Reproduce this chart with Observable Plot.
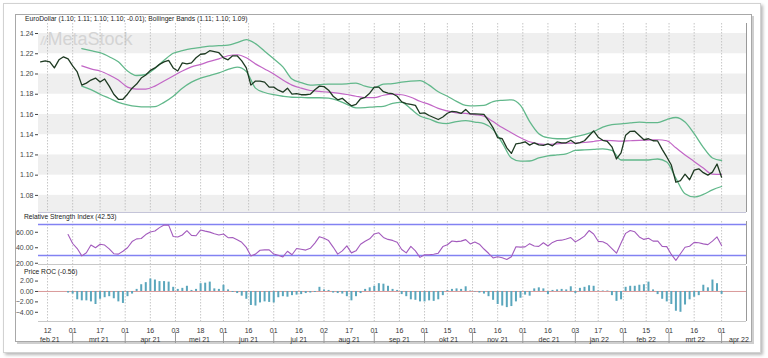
<!DOCTYPE html>
<html><head><meta charset="utf-8">
<script src="https://cdn.jsdelivr.net/npm/d3@7"></script>
<script src="https://cdn.jsdelivr.net/npm/@observablehq/plot@0.6"></script>
<style>
body{margin:0;background:#fff;width:768px;height:358px;overflow:hidden;font-family:"Liberation Sans",Arial,sans-serif;}
#root{position:relative;width:768px;height:358px;}
.card{position:absolute;left:3px;top:3px;width:756px;height:348px;border:1px solid #d2d2d2;box-shadow:2px 2px 3px rgba(0,0,0,0.28);background:#fff;}
.frame{position:absolute;left:15px;top:14px;width:735px;height:326px;border:1px solid #a8a8a8;box-shadow:2px 2px 0 #cfcfcf;}
.panel{position:absolute;left:0;}
.title{position:absolute;font-size:6.7px;line-height:7px;color:#222;white-space:nowrap;}
</style></head><body>
<div id="root">
  <div class="card"></div>
  <div class="frame"></div>
  <div id="p1" class="panel" style="top:14px"></div>
  <div id="p2" class="panel" style="top:213px"></div>
  <div id="p3" class="panel" style="top:265px"></div>
  <div id="p4" class="panel" style="top:321px"></div>
  <div class="title" style="left:25px;top:14.8px">EuroDollar (1.10; 1.11; 1.10; 1.10; -0.01); Bollinger Bands (1.11; 1.10; 1.09)</div>
  <div class="title" style="left:24px;top:213.3px">Relative Strength Index (42.53)</div>
  <div class="title" style="left:24px;top:267.5px">Price ROC (-0.56)</div>
</div>
<script>
// ---------- data ----------
const priceStart = "2021-02-09";   // one value every 2 trading days
const price = [
1.212,1.213,1.212,1.206,1.214,1.217,1.215,1.208,1.202,1.189,
1.191,1.194,1.196,1.192,1.195,1.188,1.180,1.175,1.175,1.180,
1.186,1.190,1.196,1.199,1.2036,1.206,1.2095,1.212,1.2135,1.206,
1.203,1.211,1.210,1.211,1.216,1.2195,1.220,1.223,1.222,1.221,
1.216,1.214,1.218,1.218,1.213,1.206,1.189,1.193,1.193,1.192,
1.187,1.187,1.184,1.182,1.186,1.180,1.1805,1.1795,1.1795,1.180,
1.1845,1.188,1.1875,1.184,1.178,1.1745,1.176,1.172,1.1685,1.170,
1.1755,1.177,1.181,1.187,1.187,1.1825,1.181,1.1805,1.178,1.1725,
1.1707,1.170,1.169,1.161,1.1615,1.159,1.157,1.155,1.1575,1.1612,
1.163,1.1625,1.161,1.165,1.1605,1.1605,1.1603,1.160,1.154,1.1468,
1.137,1.136,1.127,1.1215,1.131,1.1316,1.133,1.1297,1.132,1.130,
1.1295,1.131,1.129,1.1328,1.132,1.132,1.1345,1.1312,1.1322,1.134,
1.139,1.1438,1.1375,1.1345,1.1333,1.128,1.116,1.122,1.1395,1.1433,
1.1435,1.1393,1.135,1.136,1.134,1.1338,1.1255,1.118,1.110,1.093,
1.0947,1.101,1.0955,1.105,1.1063,1.1025,1.100,1.103,1.111,1.098];

const bandStart = "2021-03-05";    // one value every 4 trading days
const bandMid = [
1.208,1.205,1.203,1.199,1.194,1.187,1.185,1.185,1.188,1.193,
1.198,1.203,1.207,1.2095,1.2125,1.215,1.218,1.219,1.216,1.210,
1.205,1.200,1.194,1.189,1.186,1.1837,1.1828,1.182,1.181,1.1797,
1.178,1.1767,1.1767,1.179,1.180,1.1795,1.177,1.173,1.170,1.166,
1.1635,1.1615,1.161,1.1598,1.1583,1.153,1.147,1.142,1.137,1.133,
1.131,1.1303,1.131,1.1316,1.1318,1.1323,1.1333,1.1345,1.1342,1.1336,
1.134,1.1343,1.1347,1.135,1.134,1.127,1.120,1.1135,1.107,1.101,
1.1007];
const bandUpper = [
1.225,1.223,1.221,1.217,1.212,1.203,1.1985,1.1995,1.2055,1.2135,
1.2205,1.223,1.225,1.2262,1.2275,1.228,1.2285,1.231,1.234,1.230,
1.2225,1.215,1.207,1.195,1.1915,1.189,1.1895,1.190,1.190,1.1903,
1.191,1.188,1.1865,1.190,1.1905,1.192,1.193,1.1935,1.189,1.1825,
1.178,1.173,1.169,1.1685,1.1689,1.1728,1.174,1.1745,1.169,1.153,
1.141,1.137,1.136,1.136,1.1382,1.140,1.143,1.1475,1.150,1.1507,
1.1516,1.1524,1.152,1.152,1.155,1.157,1.1525,1.141,1.1275,1.117,
1.1145];
const bandLower = [
1.188,1.1845,1.180,1.176,1.172,1.1695,1.168,1.1675,1.1678,1.172,
1.178,1.186,1.192,1.196,1.1985,1.201,1.2045,1.2067,1.2025,1.186,
1.1817,1.1795,1.178,1.177,1.1768,1.1765,1.1765,1.1762,1.174,1.170,
1.1665,1.1668,1.1675,1.168,1.171,1.172,1.1655,1.1585,1.1555,1.152,
1.151,1.153,1.154,1.1525,1.151,1.145,1.132,1.117,1.1138,1.114,
1.117,1.119,1.120,1.121,1.1244,1.125,1.1255,1.126,1.1244,1.115,
1.115,1.115,1.115,1.116,1.113,1.097,1.0816,1.0785,1.081,1.0855,
1.0888];

const indStart = "2021-02-25";     // RSI and ROC, one value every 2 trading days
const rsi = [
57,45.5,39,29.5,33.5,43.6,40,44.5,43.5,38.6,
32.3,31.8,35.5,40,48,51.5,52,57,60.4,61.7,
66,69.3,69.2,54.5,53.8,56.5,62,56,55.5,63,
61.5,60.2,58,56.5,57.8,53,53.2,50.3,47,40.5,
29.5,31.8,36.8,37.3,37.3,31.9,30.4,28.2,35.5,31,
39,38,37,39.3,46,54.3,52.2,49.3,40.9,31.8,
36,42.5,33.4,36,44.5,48.4,51.5,57.8,59.3,53.3,
50.8,49.5,47.2,37.8,33.4,41.8,36,27.6,31,30.9,
31.7,33,41.5,43.9,48.7,47.9,48.6,50.5,45,47.5,
44.6,38.4,32.9,26.8,28.4,27.2,24.9,28.5,41.3,40.8,
41.2,45.3,42.2,41.8,46.4,42.3,46.9,49.4,49.8,51.2,
53.2,47.6,51,55,62.2,57.8,48.3,47.7,44.8,39,
33,46.2,58.6,62.2,60.6,54,50.8,52.3,48.6,48.8,
41.8,41.5,31.4,23.8,32.2,40.6,42,47,46.5,45,
44,48.5,54,43];
const roc = [
-0.3,-0.5,-1.6,-1.8,-1.8,-2.0,-2.5,-1.5,-1.2,-1.0,
-1.4,-2.0,-2.3,-1.0,-0.5,0.4,1.3,1.7,2.4,2.2,
1.9,1.9,1.8,0.8,0.4,0.6,1.0,0.2,0.4,1.5,
1.6,1.8,0.5,0.4,1.2,0.3,-0.2,-0.4,-0.9,-1.5,
-2.7,-2.8,-2.2,-2.0,-2.1,-2.2,-1.2,-1.0,-1.1,-0.8,
-0.7,-0.6,-0.4,-0.3,-0.2,0.8,0.3,0.2,-0.3,-0.4,
-0.5,-1.0,-1.8,-1.0,-0.4,0.4,0.7,1.0,1.5,1.4,
1.0,0.4,0.2,-0.6,-1.0,-1.6,-1.7,-2.0,-2.0,-1.8,
-1.9,-1.6,-0.8,0.2,0.4,0.5,0.4,0.9,0.1,-0.1,
-0.3,-0.5,-1.0,-1.7,-2.5,-2.8,-3.1,-2.9,-2.0,-1.3,
-0.7,-0.9,0.5,0.7,0.5,-0.6,0.2,0.3,0.4,0.3,
0.9,-0.4,0.6,0.8,1.1,1.0,0.1,0.1,0.1,-0.8,
-1.9,-1.6,0.8,1.0,1.0,1.2,1.3,1.8,0.3,-0.6,
-1.5,-2.0,-2.5,-3.8,-4.0,-2.6,-1.6,-1.1,-0.8,1.2,
0.7,2.2,1.5,-0.56];

const priceTicks = [1.08,1.10,1.12,1.14,1.16,1.18,1.20,1.22,1.24];
const rsiTicks = [20,40,60];
const rsiLevels = [30,70];
const rocTicks = [-4,-2,0,2];
const tickDates = ["2021-02-12","2021-03-01","2021-03-17","2021-04-01","2021-04-16","2021-05-03","2021-05-18",
 "2021-06-01","2021-06-16","2021-07-01","2021-07-16","2021-08-02","2021-08-17","2021-09-01","2021-09-16",
 "2021-10-01","2021-10-15","2021-11-01","2021-11-16","2021-12-01","2021-12-16","2022-01-03","2022-01-17",
 "2022-02-01","2022-02-15","2022-03-01","2022-03-16","2022-04-01"];
const monthStarts = ["2021-02-01","2021-03-01","2021-04-01","2021-05-01","2021-06-01","2021-07-01","2021-08-01",
 "2021-09-01","2021-10-01","2021-11-01","2021-12-01","2022-01-01","2022-02-01","2022-03-01","2022-04-01","2022-05-01"];
const monthLabels = ["feb 21","mrt 21","apr 21","mei 21","jun 21","jul 21","aug 21","sep 21","okt 21","nov 21",
 "dec 21","jan 22","feb 22","mrt 22","apr 22"];

// ---------- trading-day index (weekdays, 12 Feb 2021 = 0) ----------
const base = Date.UTC(2021,1,12);
function tIndex(s){
  const t = Date.parse(s + "T00:00:00Z"); const day = 86400000;
  let n = 0;
  if (t >= base){ for (let d = base; d < t; d += day){ const w = new Date(d).getUTCDay(); if (w && w !== 6) n++; } }
  else { for (let d = t; d < base; d += day){ const w = new Date(d).getUTCDay(); if (w && w !== 6) n--; } }
  return n;
}
const p0 = tIndex(priceStart), b0 = tIndex(bandStart), i0 = tIndex(indStart);
const priceData = price.map((v,i)=>({x:p0+2*i, v}));
const bandData = bandMid.map((v,i)=>({x:b0+4*i, mid:v, up:bandUpper[i], lo:bandLower[i]}));
const rsiData = rsi.map((v,i)=>({x:i0+2*i, v}));
const rocData = roc.map((v,i)=>({x:i0+2*i, v}));
const ticks = tickDates.map(s=>({x:tIndex(s), label:s.slice(8,10)}));
const mIdx = monthStarts.map(tIndex);
const xDomain = [tIndex("2021-02-08")+0.05, tIndex("2022-04-15")+0.9];
const months = monthLabels.map((m,i)=>({x:Math.min((mIdx[i]+mIdx[i+1])/2, xDomain[1]-3.3), label:m}));
const seps = mIdx.slice(1, monthLabels.length);

// ---------- styles ----------
const W = 768, ML = 38, MR = 22;
const font = {fontFamily:"'Liberation Sans', Arial, sans-serif", fontSize:"7px", color:"#444", background:"transparent", overflow:"visible"};
const grid = Plot.ruleX(ticks, {x:"x", stroke:"#b8b8b8", strokeDasharray:"1.5,1.5", strokeWidth:0.8});
const xs = {domain:xDomain, axis:null};

// price panel
const pDom = [1.0631, 1.2499];
const bands = [];
for (let i = 0; i < priceTicks.length; i += 2) {
  const hi = priceTicks[priceTicks.length-1-i];
  const lo = i+1 < priceTicks.length ? priceTicks[priceTicks.length-2-i] : pDom[0];
  bands.push({lo, hi});
}
bands.push({lo:pDom[0], hi:priceTicks[0]});
const p1 = Plot.plot({
  width:W, height:199, marginLeft:ML, marginRight:MR, marginTop:9, marginBottom:1,
  style:font, x:xs,
  y:{domain:pDom, ticks:priceTicks, tickFormat:".2f", tickSize:3, tickPadding:2, label:null},
  marks:[
    Plot.rectY(bands, {x1:xDomain[0], x2:xDomain[1], y1:"lo", y2:"hi", fill:"#efefef"}),
    Plot.text(["MetaStock"], {frameAnchor:"top-left", dx:9, dy:9, lineAnchor:"top", textAnchor:"start", fontSize:18, fill:"#d4d4d4", fontFamily:"'Liberation Sans', Arial"}),
    Plot.text(["//"], {frameAnchor:"top-left", dx:2, dy:13, lineAnchor:"top", textAnchor:"start", fontSize:12, fontStyle:"italic", fontWeight:"bold", fill:"#dadada"}),
    grid,
    Plot.ruleY([pDom[0]], {stroke:"#c4c4d8"}),
    Plot.ruleX([xDomain[1]], {stroke:"#999"}),
    Plot.line(bandData, {x:"x", y:"up", stroke:"#62b88b", strokeWidth:1.3, curve:"monotone-x"}),
    Plot.line(bandData, {x:"x", y:"lo", stroke:"#62b88b", strokeWidth:1.3, curve:"monotone-x"}),
    Plot.line(bandData, {x:"x", y:"mid", stroke:"#c266c6", strokeWidth:1.2, curve:"monotone-x"}),
    Plot.line(priceData, {x:"x", y:"v", stroke:"#1e3a22", strokeWidth:1.3})
  ]
});
document.getElementById("p1").append(p1);

// RSI panel
const p2 = Plot.plot({
  width:W, height:52, marginLeft:ML, marginRight:MR, marginTop:8, marginBottom:1,
  style:font, x:xs,
  y:{domain:[18.4,73.9], ticks:rsiTicks, tickFormat:".2f", tickSize:3, tickPadding:2, label:null},
  marks:[
    grid,
    Plot.ruleY([18.4], {stroke:"#c8c8c8"}),
    Plot.ruleX([xDomain[1]], {stroke:"#999"}),
    Plot.ruleY(rsiLevels, {stroke:"#8282f2", strokeWidth:1.3}),
    Plot.line(rsiData, {x:"x", y:"v", stroke:"#a35bbd", strokeWidth:1.1})
  ]
});
document.getElementById("p2").append(p2);

// ROC panel
const p3 = Plot.plot({
  width:W, height:56, marginLeft:ML, marginRight:MR, marginTop:1, marginBottom:0,
  style:font, x:xs,
  y:{domain:[-5.77,4.8], ticks:rocTicks, tickFormat:".2f", tickSize:3, tickPadding:2, label:null},
  marks:[
    grid,
    Plot.ruleY([-5.77], {stroke:"#c8c8c8"}),
    Plot.ruleX([xDomain[1]], {stroke:"#999"}),
    Plot.ruleY([0], {stroke:"#d99a9a", strokeWidth:1}),
    Plot.ruleX(rocData, {x:"x", y1:0, y2:"v", stroke:"#5aa6bc", strokeWidth:2})
  ]
});
document.getElementById("p3").append(p3);

// date axis
const p4 = Plot.plot({
  width:W, height:22, marginLeft:ML, marginRight:MR, marginTop:0, marginBottom:0,
  style:font, x:xs,
  marks:[
    Plot.text(ticks, {x:"x", text:"label", frameAnchor:"top", dy:7, fill:"#333"}),
    Plot.text(months, {x:"x", text:"label", frameAnchor:"top", dy:16, fill:"#333"}),
    Plot.ruleX(seps, {insetTop:11, stroke:"#999"})
  ]
});
document.getElementById("p4").append(p4);
</script>
</body></html>
